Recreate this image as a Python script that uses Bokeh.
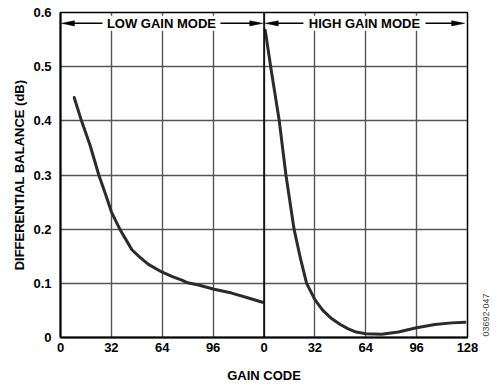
import math
from bokeh.plotting import figure
from bokeh.models import Range1d, FixedTicker, Span, Label, LinearAxis
from bokeh.embed import file_html
from bokeh.resources import INLINE

# ---- data ----
LOW_CODE = [8.6, 13.2, 18.6, 24.1, 28.5, 32, 37.3, 40.7, 44.9, 50, 55.3, 63.7, 70, 76.3, 80,
            86.8, 96.6, 107.7, 118.2, 127]
LOW_DB = [0.443, 0.400, 0.355, 0.300, 0.263, 0.232, 0.200, 0.183, 0.162, 0.148, 0.135, 0.121,
          0.113, 0.106, 0.101, 0.097, 0.089, 0.082, 0.073, 0.065]

HIGH_CODE = [0.8, 4.2, 9.6, 13.8, 18.9, 23, 26.8, 32, 37, 42.5, 48, 53, 58, 64, 74, 84.5, 96,
             107.5, 118, 126.4]
HIGH_DB = [0.567, 0.500, 0.400, 0.300, 0.200, 0.145, 0.100, 0.070, 0.050, 0.035, 0.024, 0.016,
           0.010, 0.007, 0.006, 0.010, 0.018, 0.024, 0.027, 0.028]

HIGH_OFFSET = 128  # high-gain codes are drawn to the right of the low-gain ones

X_TICKS = [0, 32, 64, 96, 128, 160, 192, 224, 256]
X_TICK_LABELS = ["0", "32", "64", "96", "0", "32", "64", "96", "128"]
Y_TICKS = [0, 0.1, 0.2, 0.3, 0.4, 0.5, 0.6]
Y_TICK_LABELS = ["0", "0.1", "0.2", "0.3", "0.4", "0.5", "0.6"]

MODE_NAMES = ["LOW GAIN MODE", "HIGH GAIN MODE"]
MODE_START = [0.6, 128.8]
MODE_END = [127.2, 254.2]
MODE_TEXT_LEFT = [26.4, 152.8]
MODE_TEXT_RIGHT = [100.6, 229.6]
MODE_Y = 0.58

FIG_ID = "03692-047"
FIG_ID_Y = 0.002

FONT = "Liberation Sans"
CURVE = "#2b2b2b"

p = figure(width=498, height=389, x_range=Range1d(0, 256), y_range=Range1d(0, 0.6),
           output_backend="svg", toolbar_location=None,
           min_border_left=60, min_border_right=31, min_border_top=12, min_border_bottom=52)

p.outline_line_color = "black"
p.outline_line_width = 1.5
p.background_fill_color = "white"
p.border_fill_color = "white"

# axes
p.xaxis.ticker = FixedTicker(ticks=X_TICKS)
p.xaxis.major_label_overrides = dict(zip(X_TICKS, X_TICK_LABELS))
p.yaxis.ticker = FixedTicker(ticks=Y_TICKS)
p.yaxis.major_label_overrides = dict(zip(Y_TICKS, Y_TICK_LABELS))
for ax in (p.xaxis, p.yaxis):
    ax.major_tick_in = 0
    ax.major_tick_out = 0
    ax.minor_tick_in = 0
    ax.minor_tick_out = 0
    ax.axis_line_color = "black"
    ax.axis_line_width = 2
    ax.major_label_text_font = FONT
    ax.major_label_text_font_size = "13px"
    ax.major_label_text_font_style = "bold"
    ax.major_label_text_color = "black"
    ax.axis_label_text_font = FONT
    ax.axis_label_text_font_size = "13px"
    ax.axis_label_text_font_style = "bold"
    ax.axis_label_text_color = "black"
p.xaxis.axis_label = "GAIN CODE"
p.yaxis.axis_label = "DIFFERENTIAL BALANCE (dB)"
p.xaxis.major_label_standoff = 5
p.xaxis.axis_label_standoff = 13
p.yaxis.major_label_standoff = 9
p.yaxis.axis_label_standoff = 3

# figure id as a vertical label on the right
rax = LinearAxis(ticker=FixedTicker(ticks=[FIG_ID_Y]),
                 major_label_overrides={FIG_ID_Y: FIG_ID},
                 major_label_orientation=math.pi / 2,
                 major_tick_in=0, major_tick_out=0, minor_tick_in=0, minor_tick_out=0,
                 axis_line_color=None, major_label_standoff=19,
                 major_label_text_font=FONT, major_label_text_font_size="9px",
                 major_label_text_color="#444444")
p.add_layout(rax, "right")

# grid
p.xgrid.ticker = FixedTicker(ticks=X_TICKS)
p.ygrid.ticker = FixedTicker(ticks=Y_TICKS)
p.grid.grid_line_color = "#555555"
p.grid.grid_line_width = 1.4
p.add_layout(Span(location=HIGH_OFFSET, dimension="height", line_color="black", line_width=1.5))

# curves
p.line(LOW_CODE, LOW_DB, line_width=3, line_color=CURVE, line_join="round", line_cap="round")
p.line([c + HIGH_OFFSET for c in HIGH_CODE], HIGH_DB, line_width=3, line_color=CURVE,
       line_join="round", line_cap="round")

# mode annotations with arrows
XS = 407 / 256.0   # px per code unit
YS = 325 / 0.6     # px per dB
head_len = 13 / XS
head_half = 2.6 / YS
for name, s, e, tl, tr in zip(MODE_NAMES, MODE_START, MODE_END, MODE_TEXT_LEFT, MODE_TEXT_RIGHT):
    lbl = Label(x=(tl + tr) / 2.0, y=MODE_Y, text=name, text_font=FONT, text_font_size="13px",
                text_font_style="bold", text_color="black", text_align="center",
                text_baseline="middle", background_fill_color="white")
    p.add_layout(lbl)
    p.segment(x0=[s + head_len * 0.8, tr], y0=[MODE_Y, MODE_Y],
              x1=[tl, e - head_len * 0.8], y1=[MODE_Y, MODE_Y],
              line_color="black", line_width=1.5)
    p.patches(xs=[[s, s + head_len, s + head_len], [e, e - head_len, e - head_len]],
              ys=[[MODE_Y, MODE_Y + head_half, MODE_Y - head_half],
                  [MODE_Y, MODE_Y + head_half, MODE_Y - head_half]],
              fill_color="black", line_color="black", line_width=0.5)

open("out.html", "w").write(file_html(p, INLINE))
